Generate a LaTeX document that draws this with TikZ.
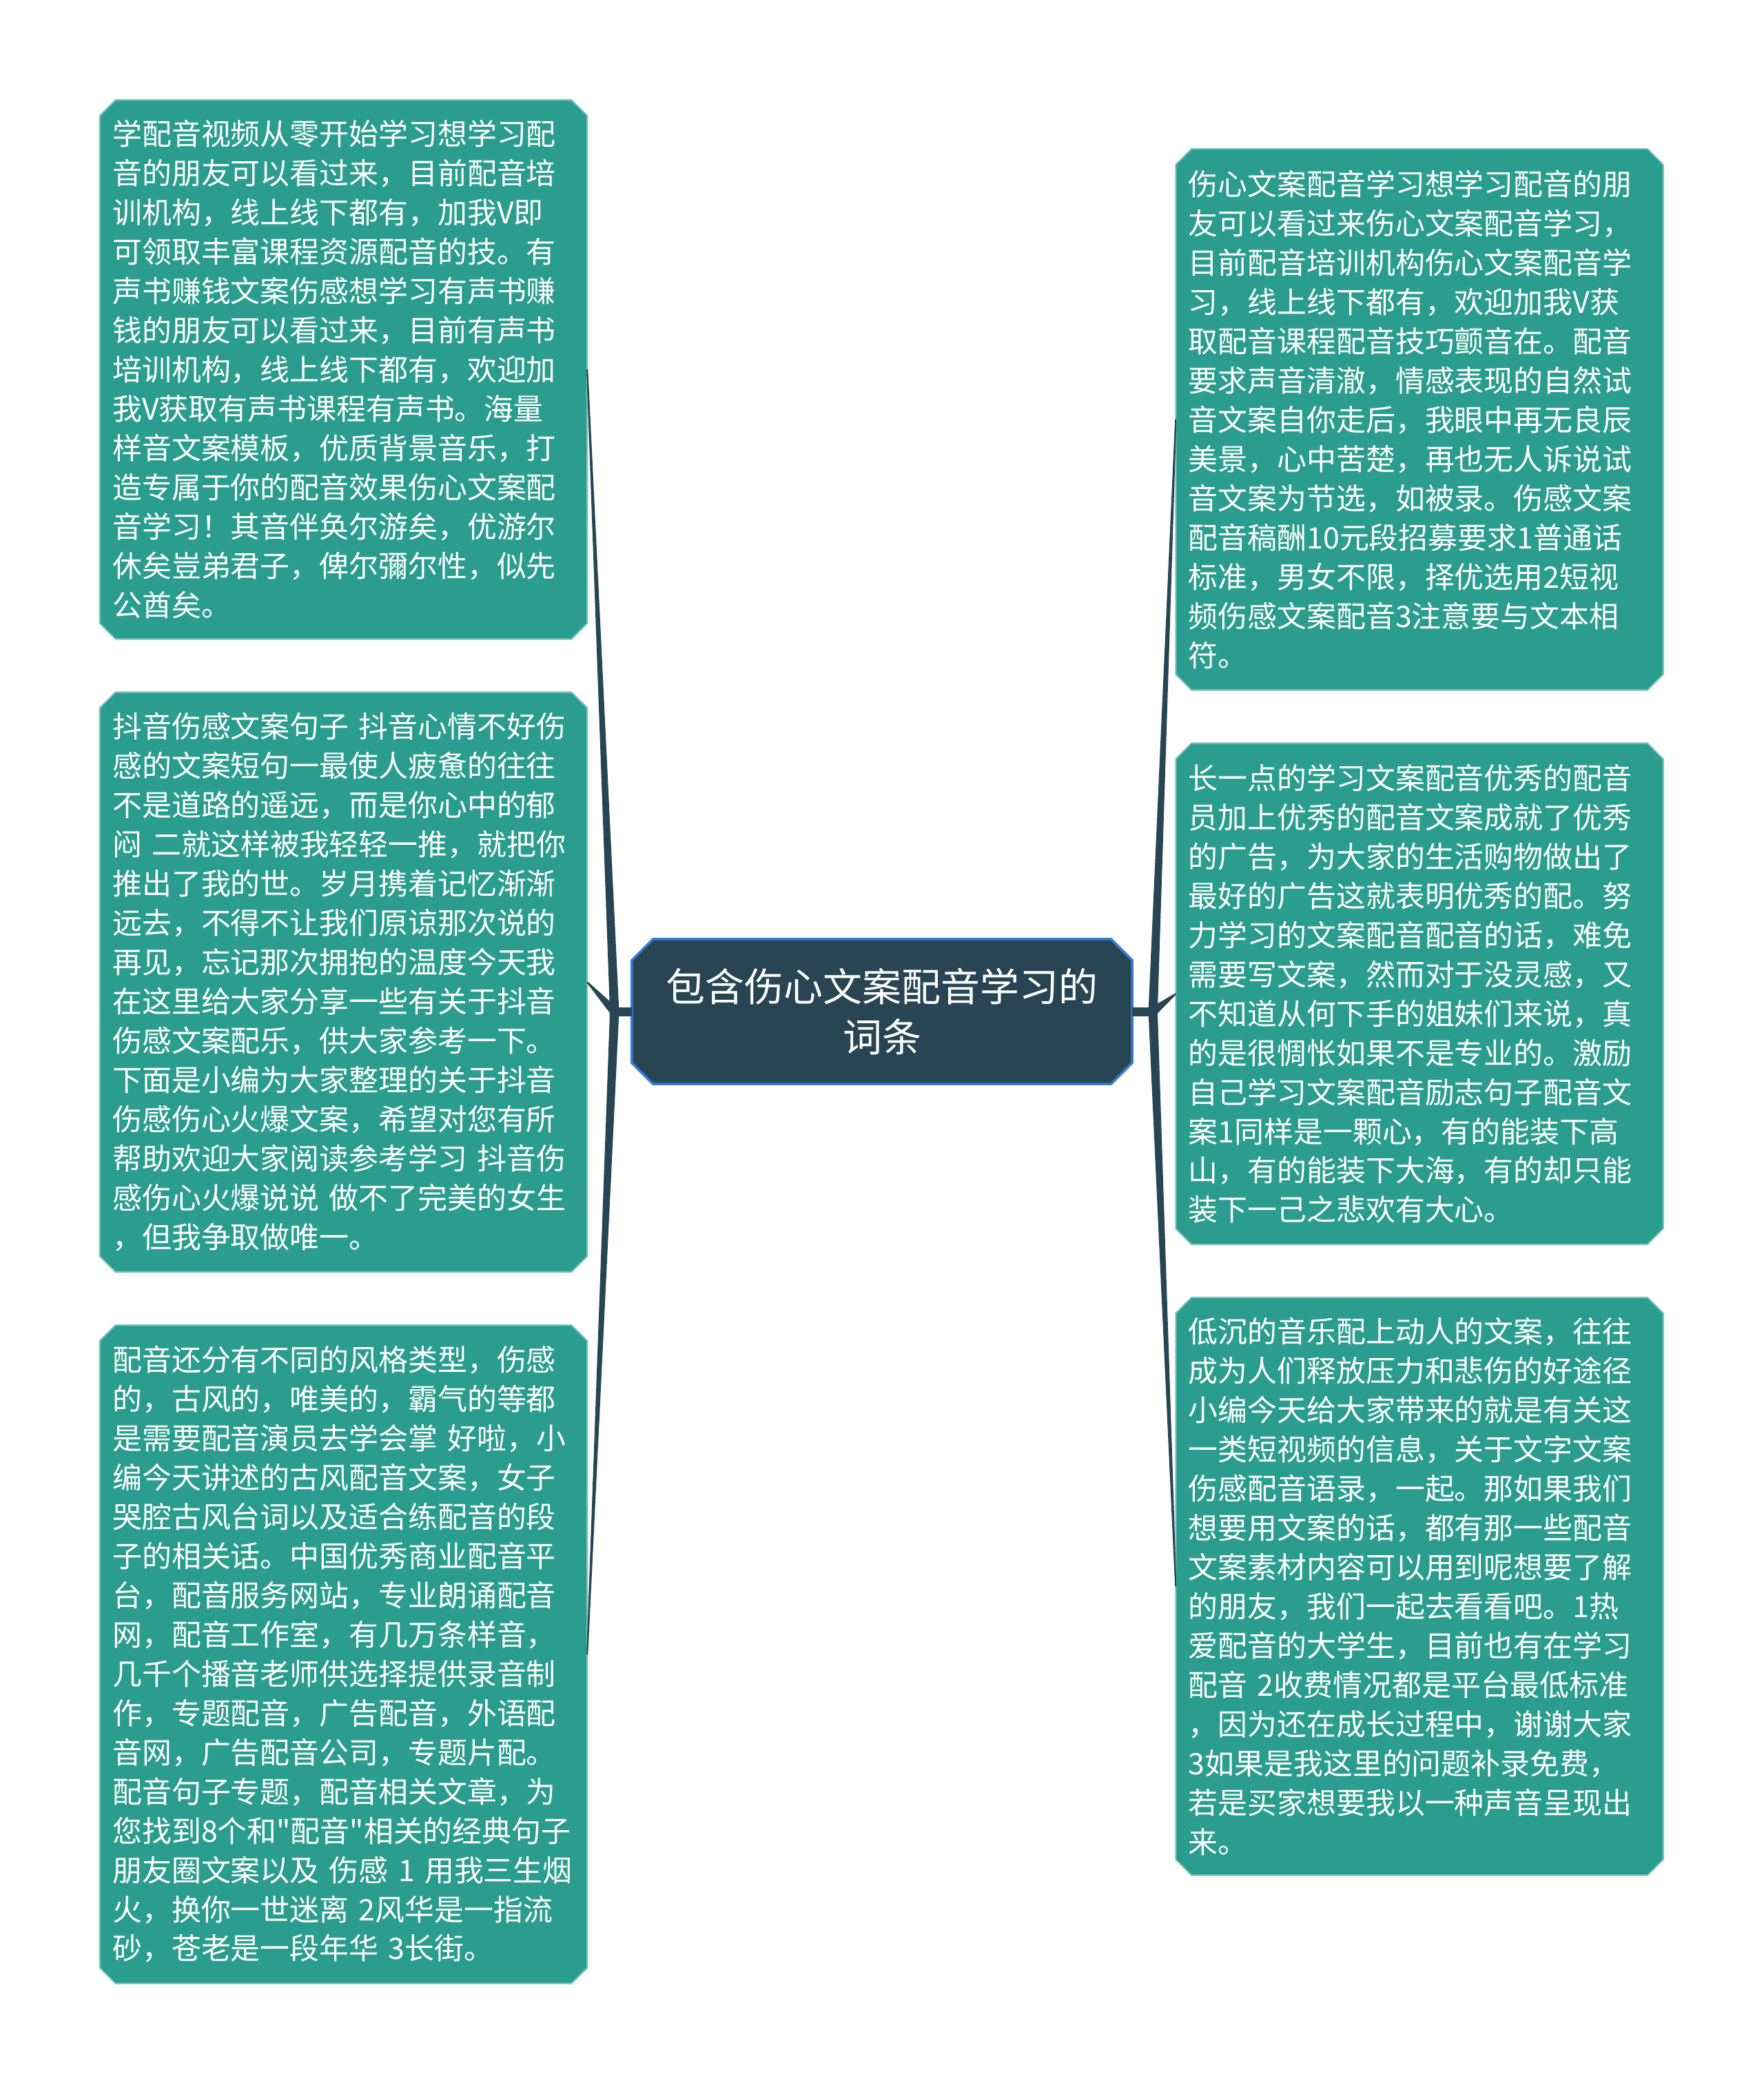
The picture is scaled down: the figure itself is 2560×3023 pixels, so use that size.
\documentclass[tikz,border=0pt]{standalone}
\usepackage{fontspec}
\setmainfont{Noto Sans CJK SC}[Ligatures=TeXOff]
\usepackage{xcolor}
\usepackage{tikz}
\usetikzlibrary{positioning, shapes.misc, calc}
\definecolor{leafgreen}{RGB}{42,157,142}
\definecolor{rootblue}{RGB}{39,69,83}
\definecolor{rootedge}{RGB}{58,122,214}
\tikzset{
    leaf/.style={
        chamfered rectangle, chamfered rectangle xsep=0.1cm,
        fill=leafgreen, draw=leafgreen!60!white, line width=0.6pt,
        text=white, text width=6.7cm, minimum width=6.87cm,
        inner xsep=0.085cm, inner ysep=0pt, outer sep=0pt,
        align=left,
        font=\fontsize{12.2pt}{16.2pt}\selectfont
    },
    root/.style={
        chamfered rectangle, chamfered rectangle xsep=0.18cm,
        fill=rootblue, draw=rootedge, line width=1pt,
        text=white, text width=6.8cm, minimum width=6.9cm,
        minimum height=2.1cm, inner xsep=0.05cm, outer sep=0pt,
        align=center,
        font=\fontsize{16.2pt}{20.7pt}\selectfont
    },
    every node/.style = {node distance=0.77cm},
    stub/.style = {draw=rootblue, line width=0.13cm}
}
% tapered connector, thick at the first point
\newcommand{\branchline}[2]{%
    \fill[rootblue] ($(#1)!1.9pt!90:(#2)$) -- ($(#2)!0.3pt!-90:(#1)$)
        -- ($(#2)!0.3pt!90:(#1)$) -- ($(#1)!1.9pt!-90:(#2)$) -- cycle;
}

\begin{document}
\begin{tikzpicture}[x=0.01cm, y=-0.01cm]

    \fill[white] (0,0) rectangle (2560,3023);
    \useasboundingbox (0,0) rectangle (2560,3023);

    % Centre
    \node[root] (root) at (1280,1468) {包含伤心文案配音学习的\\词条};

    % Left column
    \node[leaf, minimum height=7.82cm, anchor=north] (l1) at (498.5,145) {
        学配音视频从零开始学习想学习配\\
        音的朋友可以看过来，目前配音培\\
        训机构，线上线下都有，加我V即\\
        可领取丰富课程资源配音的技。有\\
        声书赚钱文案伤感想学习有声书赚\\
        钱的朋友可以看过来，目前有声书\\
        培训机构，线上线下都有，欢迎加\\
        我V获取有声书课程有声书。海量\\
        样音文案模板，优质背景音乐，打\\
        造专属于你的配音效果伤心文案配\\
        音学习！其音伴奂尔游矣，优游尔\\
        休矣豈弟君子，俾尔彌尔性，似先\\
        公酋矣。};
    \node[leaf, minimum height=8.41cm, below=of l1] (l2) {
        抖音伤感文案句子~抖音心情不好伤\\
        感的文案短句一最使人疲惫的往往\\
        不是道路的遥远，而是你心中的郁\\
        闷~二就这样被我轻轻一推，就把你\\
        推出了我的世。岁月携着记忆渐渐\\
        远去，不得不让我们原谅那次说的\\
        再见，忘记那次拥抱的温度今天我\\
        在这里给大家分享一些有关于抖音\\
        伤感文案配乐，供大家参考一下。\\
        下面是小编为大家整理的关于抖音\\
        伤感伤心火爆文案，希望对您有所\\
        帮助欢迎大家阅读参考学习~抖音伤\\
        感伤心火爆说说~做不了完美的女生\\
        ，但我争取做唯一。};
    \node[leaf, minimum height=9.55cm, below=of l2] (l3) {
        配音还分有不同的风格类型，伤感\\
        的，古风的，唯美的，霸气的等都\\
        是需要配音演员去学会掌~好啦，小\\
        编今天讲述的古风配音文案，女子\\
        哭腔古风台词以及适合练配音的段\\
        子的相关话。中国优秀商业配音平\\
        台，配音服务网站，专业朗诵配音\\
        网，配音工作室，有几万条样音，\\
        几千个播音老师供选择提供录音制\\
        作，专题配音，广告配音，外语配\\
        音网，广告配音公司，专题片配。\\
        配音句子专题，配音相关文章，为\\
        您找到8个和"配音"相关的经典句子\\
        朋友圈文案以及~伤感~1~用我三生烟\\
        火，换你一世迷离~2风华是一指流\\
        砂，苍老是一段年华~3长街。};

    % Right column
    \node[leaf, minimum height=7.85cm, anchor=north] (r1) at (2060,216) {
        伤心文案配音学习想学习配音的朋\\
        友可以看过来伤心文案配音学习，\\
        目前配音培训机构伤心文案配音学\\
        习，线上线下都有，欢迎加我V获\\
        取配音课程配音技巧颤音在。配音\\
        要求声音清澈，情感表现的自然试\\
        音文案自你走后，我眼中再无良辰\\
        美景，心中苦楚，再也无人诉说试\\
        音文案为节选，如被录。伤感文案\\
        配音稿酬10元段招募要求1普通话\\
        标准，男女不限，择优选用2短视\\
        频伤感文案配音3注意要与文本相\\
        符。};
    \node[leaf, minimum height=7.27cm, below=of r1] (r2) {
        长一点的学习文案配音优秀的配音\\
        员加上优秀的配音文案成就了优秀\\
        的广告，为大家的生活购物做出了\\
        最好的广告这就表明优秀的配。努\\
        力学习的文案配音配音的话，难免\\
        需要写文案，然而对于没灵感，又\\
        不知道从何下手的姐妹们来说，真\\
        的是很惆怅如果不是专业的。激励\\
        自己学习文案配音励志句子配音文\\
        案1同样是一颗心，有的能装下高\\
        山，有的能装下大海，有的却只能\\
        装下一己之悲欢有大心。};
    \node[leaf, minimum height=8.38cm, below=of r2] (r3) {
        低沉的音乐配上动人的文案，往往\\
        成为人们释放压力和悲伤的好途径\\
        小编今天给大家带来的就是有关这\\
        一类短视频的信息，关于文字文案\\
        伤感配音语录，一起。那如果我们\\
        想要用文案的话，都有那一些配音\\
        文案素材内容可以用到呢想要了解\\
        的朋友，我们一起去看看吧。1热\\
        爱配音的大学生，目前也有在学习\\
        配音~2收费情况都是平台最低标准\\
        ，因为还在成长过程中，谢谢大家\\
        3如果是我这里的问题补录免费，\\
        若是买家想要我以一种声音呈现出\\
        来。};

    % Connectors
    \coordinate (jl) at ([xshift=-0.25cm]root.west);
    \coordinate (jr) at ([xshift=0.3cm]root.east);
    \draw[stub] (root.west) -- (jl);
    \draw[stub] (root.east) -- (jr);
    \branchline{jl}{l1.east}
    \branchline{jl}{l2.east}
    \branchline{jl}{l3.east}
    \branchline{jr}{r1.west}
    \branchline{jr}{r2.west}
    \branchline{jr}{r3.west}

\end{tikzpicture}
\end{document}
